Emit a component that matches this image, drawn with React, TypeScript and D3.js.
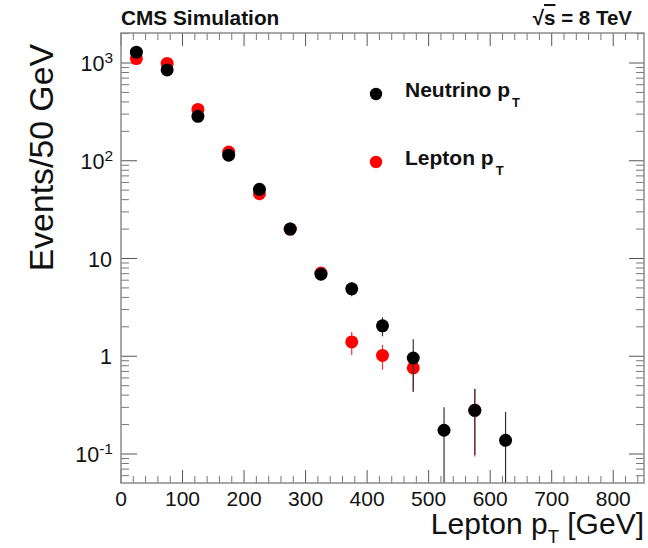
import React from 'react';
import * as d3 from 'd3';

const W = 648;
const H = 548;

const neutrinoBins = [25, 75, 125, 175, 225, 275, 325, 375, 425, 475, 525, 575, 625];
const neutrinoValues = [1290, 850, 285, 114, 51, 20, 6.9, 4.9, 2.05, 0.96, 0.175, 0.28, 0.138];
const neutrinoErrors = [36, 29, 17, 10, 6.5, 1.6, 0.9, 0.8, 0.45, 0.53, 0.125, 0.182, 0.132];

const leptonBins = [25, 75, 125, 175, 225, 275, 325, 375, 425, 475, 575];
const leptonValues = [1110, 990, 335, 123, 46, 20, 7.1, 1.4, 1.02, 0.76, 0.28];
const leptonErrors = [33, 31, 18, 11, 6.5, 1.6, 0.9, 0.37, 0.29, 0.32, 0.186];

const xTickValues = [0, 100, 200, 300, 400, 500, 600, 700, 800];
const yTickValues = [0.1, 1, 10, 100, 1000];
const yTickBase = ['10', '1', '10', '10', '10'];
const yTickExp = ['-1', '', '', '2', '3'];

const legendLabels = ['Neutrino p', 'Lepton p'];
const legendColors = ['#000000', '#ff0000'];

const FONT = "'Liberation Sans', Arial, Helvetica, sans-serif";

export default function App() {
  const left = 121, right = 644, top = 33, bottom = 483;
  const x = d3.scaleLinear().domain([0, 850]).range([left, right]);
  const y = d3.scaleLog().domain([0.0505, 2028]).range([bottom, top]);
  const [y0, y1] = y.domain();

  const xMinor = d3.range(0, 851, 20).filter((v) => v % 100 !== 0);
  const yMinor: number[] = [];
  for (let d = -2; d <= 3; d++) {
    for (let m = 2; m <= 9; m++) {
      const v = m * Math.pow(10, d);
      if (v > y0 && v < y1) yMinor.push(v);
    }
  }

  const yc = (v: number) => {
    if (v <= y0) return bottom;
    if (v >= y1) return top;
    return y(v);
  };

  const series = [
    { bins: leptonBins, values: leptonValues, errors: leptonErrors, color: '#ff0000', bar: '#ff3030' },
    { bins: neutrinoBins, values: neutrinoValues, errors: neutrinoErrors, color: '#000000', bar: '#333333' },
  ];

  return (
    <svg width={W} height={H} style={{ position: 'absolute', left: 0, top: 0, display: 'block', background: '#fff' }} fontFamily={FONT}>
      <rect x={0} y={0} width={W} height={H} fill="#fff" />
      {/* header */}
      <text x={121} y={25} fontSize={20.8} fontWeight="bold" fill="#111">CMS Simulation</text>
      <text x={632} y={25} fontSize={20.5} fontWeight="bold" fill="#111" textAnchor="end">
        √<tspan style={{ textDecoration: 'overline' }}>s</tspan> = 8 TeV
      </text>

      {/* ticks */}
      <g>
        {xTickValues.map((v) => (
          <g key={'xt' + v}>
            <line x1={x(v)} x2={x(v)} y1={bottom} y2={bottom - 13} stroke="#555" strokeWidth={1} />
            <line x1={x(v)} x2={x(v)} y1={top} y2={top + 13} stroke="#555" strokeWidth={1} />
          </g>
        ))}
        {xMinor.map((v) => (
          <g key={'xm' + v}>
            <line x1={x(v)} x2={x(v)} y1={bottom} y2={bottom - 7} stroke="#777" strokeWidth={1} />
            <line x1={x(v)} x2={x(v)} y1={top} y2={top + 7} stroke="#777" strokeWidth={1} />
          </g>
        ))}
        {yTickValues.map((v) => (
          <g key={'yt' + v}>
            <line x1={left} x2={left + 16} y1={y(v)} y2={y(v)} stroke="#555" strokeWidth={1} />
            <line x1={right} x2={right - 15} y1={y(v)} y2={y(v)} stroke="#555" strokeWidth={1} />
          </g>
        ))}
        {yMinor.map((v) => (
          <g key={'ym' + v}>
            <line x1={left} x2={left + 8} y1={y(v)} y2={y(v)} stroke="#777" strokeWidth={1} />
            <line x1={right} x2={right - 8} y1={y(v)} y2={y(v)} stroke="#777" strokeWidth={1} />
          </g>
        ))}
      </g>

      {/* tick labels */}
      {xTickValues.map((v) => (
        <text key={'xl' + v} x={x(v)} y={506} fontSize={21} textAnchor="middle" fill="#111">{v}</text>
      ))}
      {yTickValues.map((v, i) => (
        <text key={'yl' + v} x={yTickExp[i] ? 113 : 112} y={y(v) + 8} fontSize={21.5} textAnchor="end" fill="#111">
          {yTickBase[i]}
          {yTickExp[i] ? <tspan fontSize={15.5} dy={-8}>{yTickExp[i]}</tspan> : null}
        </text>
      ))}

      {/* axis titles */}
      <text transform="translate(53,44) rotate(-90)" fontSize={33.8} textAnchor="end" fill="#111">Events/50 GeV</text>
      <text x={644} y={534} fontSize={30} textAnchor="end" fill="#111">
        Lepton p<tspan fontSize={18.5} dy={9}>T</tspan><tspan dy={-9}> [GeV]</tspan>
      </text>

      {/* data */}
      <defs>
        <clipPath id="plotclip">
          <rect x={left} y={top} width={right - left} height={bottom - top} />
        </clipPath>
      </defs>
      <g clipPath="url(#plotclip)">
        {series.map((s, si) => (
          <g key={'s' + si}>
            {s.bins.map((b, i) => (
              <line key={'e' + i} x1={x(b)} x2={x(b)} y1={yc(s.values[i] - s.errors[i])} y2={yc(s.values[i] + s.errors[i])} stroke={s.bar} strokeWidth={1.2} />
            ))}
            {s.bins.map((b, i) => (
              <circle key={'p' + i} cx={x(b)} cy={y(s.values[i])} r={6.5} fill={s.color} />
            ))}
          </g>
        ))}
      </g>

      {/* frame */}
      <rect x={left} y={top} width={right - left} height={bottom - top} fill="none" stroke="#8a8a8a" strokeWidth={1.5} />

      {/* legend */}
      {legendLabels.map((lab, i) => (
        <g key={'lg' + i}>
          <circle cx={376} cy={94 + i * 68} r={6.2} fill={legendColors[i]} />
          <text x={405} y={97 + i * 68} fontSize={21} fontWeight="bold" fill="#111">
            {lab}<tspan fontSize={13} dx={2} dy={10}>T</tspan>
          </text>
        </g>
      ))}
    </svg>
  );
}
